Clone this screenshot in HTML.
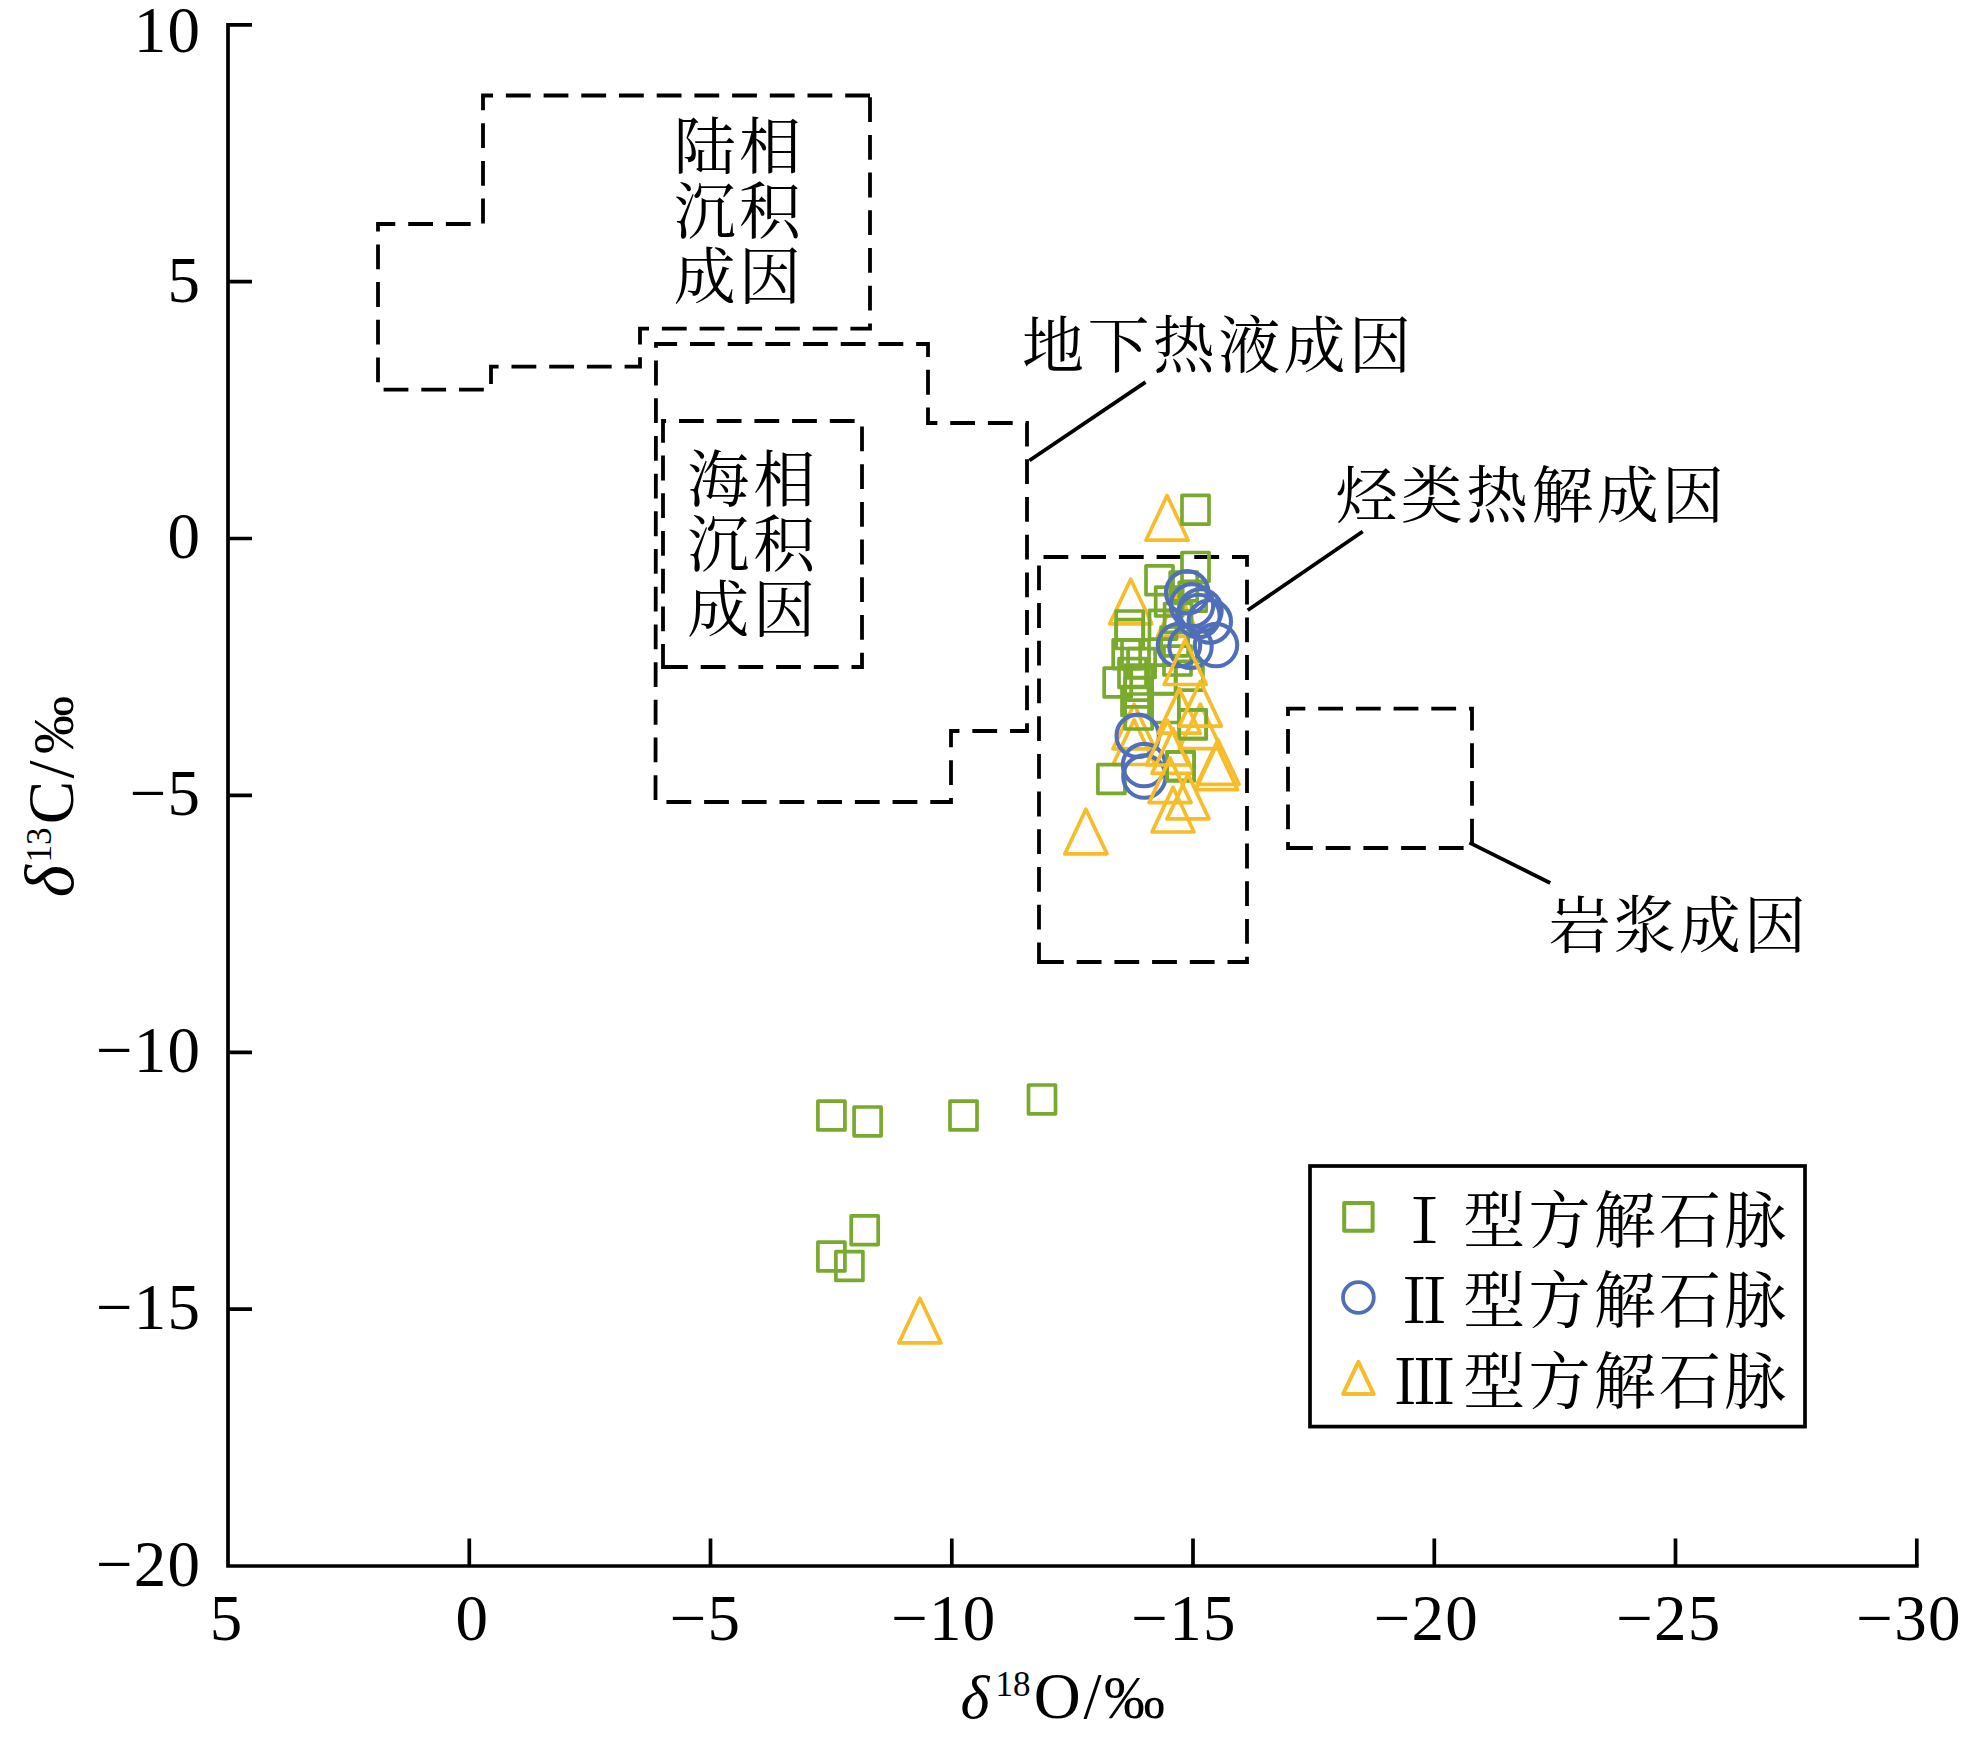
<!DOCTYPE html>
<html lang="zh"><head><meta charset="utf-8"><title>δ13C – δ18O 图解</title>
<style>html,body{margin:0;padding:0;background:#fff}svg{display:block}.cn{font-family:"Liberation Serif","Noto Serif CJK SC",serif;font-size:62px;font-weight:400;fill:#000}.num{font-family:"Liberation Serif",serif;font-size:65px;letter-spacing:1.2px;fill:#000}.ttl{font-family:"Liberation Serif",serif;font-size:65px;fill:#000}.ax{stroke:#000;stroke-width:3.7;fill:none;stroke-linecap:butt}.dash{stroke:#000;stroke-width:3.8;fill:none;stroke-dasharray:24.8 12.9;stroke-linejoin:miter}.ld{stroke:#000;stroke-width:3.8;fill:none}</style></head><body>
<svg width="1965" height="1737" viewBox="0 0 1965 1737">
<rect width="1965" height="1737" fill="#fff"/>
<path class="ax" d="M228.0 22.95V1566.0H1918.6499999999999"/>
<path class="ax" d="M228.0 24.8h24M228.0 281.7h24M228.0 538.5h24M228.0 795.4h24M228.0 1052.3h24M228.0 1309.1h24M469.3 1566.0v-27.5M710.5 1566.0v-27.5M951.8 1566.0v-27.5M1193.0 1566.0v-27.5M1434.3 1566.0v-27.5M1675.5 1566.0v-27.5M1916.8 1566.0v-27.5"/>
<g class="num" text-anchor="end">
<text x="201.2" y="51.6">10</text>
<text x="201.2" y="301.5">5</text>
<text x="201.2" y="558.3">0</text>
<text x="201.2" y="815.2">−5</text>
<text x="201.2" y="1072.1">−10</text>
<text x="201.2" y="1328.9">−15</text>
<text x="201.2" y="1585.8">−20</text>
</g>
<g class="num" text-anchor="middle">
<text x="226.5" y="1640">5</text>
<text x="472.3" y="1640">0</text>
<text x="705.5" y="1640">−5</text>
<text x="943.8" y="1640">−10</text>
<text x="1184.0" y="1640">−15</text>
<text x="1426.3" y="1640">−20</text>
<text x="1668.8" y="1640">−25</text>
<text x="1909.0" y="1640">−30</text>
</g>
<g class="ttl" transform="translate(962 1717.6)"><text x="-1.4" font-size="62" font-style="italic">δ</text><text x="33.5" y="-22" font-size="35">18</text><text x="71.7" font-size="65">O</text><text x="121.4" font-size="65">/</text><text x="142" font-size="61">‰</text></g>
<g class="ttl" transform="translate(73.4 896) rotate(-90)"><text x="-1.2" font-size="69" font-style="italic">δ</text><text x="33.5" y="-22" font-size="35">13</text><text x="71.7" font-size="65">C</text><text x="117.5" font-size="65">/</text><text x="142" font-size="58">‰</text></g>
<g class="dash">
<path d="M870 95.5H483V224H378V389.6H491V366.7H640V328.6H870Z"/>
<path pathLength="1658.8" stroke-dashoffset="3.7" d="M656 344H928V423H1027V731H951V802H655.5Z"/>
<path d="M663 667H862V421H663Z"/>
<path d="M1039 962H1247V557H1039Z"/>
<path d="M1288 848H1472V708.6H1288Z"/>
</g>
<path class="ld" d="M1029.4 460.5L1145.5 382.2M1247.7 610.3L1362.7 531.5M1469.4 842.6L1550.2 883"/>
<g class="cn" text-anchor="middle" style="letter-spacing:3.1px">
<text x="738.9" y="169.0">陆相</text>
<text x="738.9" y="234.1">沉积</text>
<text x="738.9" y="299.2">成因</text>
</g>
<g class="cn" text-anchor="middle" style="letter-spacing:4px">
<text x="753.3" y="502.0">海相</text>
<text x="753.3" y="567.1">沉积</text>
<text x="753.3" y="632.2">成因</text>
</g>
<g class="cn">
<text x="1022" y="368.4" textLength="389" lengthAdjust="spacing">地下热液成因</text>
<text x="1335.5" y="518" textLength="388.5" lengthAdjust="spacing">烃类热解成因</text>
<text x="1548.5" y="948.3" textLength="257.5" lengthAdjust="spacing">岩浆成因</text>
</g>
<g fill="none" stroke="#F7BC2A" stroke-width="3.7" stroke-linejoin="round">
<path d="M1167.1 495.6L1188.1 540.2H1146.0Z"/>
<path d="M1130.7 579.2L1151.8 623.8H1109.7Z"/>
<path d="M1178.5 591.7L1199.5 636.3H1157.5Z"/>
<path d="M1134.1 704.2L1155.1 748.8H1113.0Z"/>
<path d="M1134.1 719.9L1155.1 764.5H1113.0Z"/>
</g>
<g fill="none" stroke="#7AAA2D" stroke-width="3.7" stroke-linejoin="round">
<rect x="1182.0" y="495.4" width="27.0" height="28.8"/>
<rect x="1182.0" y="552.5" width="27.0" height="28.8"/>
<rect x="1146.0" y="565.9" width="27.0" height="28.8"/>
<rect x="1155.7" y="587.2" width="27.0" height="28.8"/>
<rect x="1170.2" y="572.1" width="27.0" height="28.8"/>
<rect x="1179.2" y="582.4" width="27.0" height="28.8"/>
<rect x="1116.2" y="611.0" width="27.0" height="28.8"/>
<rect x="1116.2" y="619.7" width="27.0" height="28.8"/>
<rect x="1164.6" y="603.5" width="27.0" height="28.8"/>
<rect x="1149.5" y="610.3" width="27.0" height="28.8"/>
<rect x="1113.2" y="639.8" width="27.0" height="28.8"/>
<rect x="1122.0" y="639.8" width="27.0" height="28.8"/>
<rect x="1128.1" y="648.7" width="27.0" height="28.8"/>
<rect x="1119.0" y="658.7" width="27.0" height="28.8"/>
<rect x="1125.1" y="665.2" width="27.0" height="28.8"/>
<rect x="1104.2" y="668.1" width="27.0" height="28.8"/>
<rect x="1125.1" y="678.0" width="27.0" height="28.8"/>
<rect x="1122.0" y="686.6" width="27.0" height="28.8"/>
<rect x="1125.1" y="700.2" width="27.0" height="28.8"/>
<rect x="1164.0" y="646.2" width="27.0" height="28.8"/>
<rect x="1161.1" y="627.0" width="27.0" height="28.8"/>
<rect x="1175.9" y="661.4" width="27.0" height="28.8"/>
<rect x="1148.5" y="665.2" width="27.0" height="28.8"/>
<rect x="1151.8" y="693.7" width="27.0" height="28.8"/>
<rect x="1179.2" y="709.9" width="27.0" height="28.8"/>
<rect x="1167.1" y="751.9" width="27.0" height="28.8"/>
<rect x="1097.9" y="764.6" width="27.0" height="28.8"/>
<rect x="817.9" y="1101.1" width="27.0" height="28.8"/>
<rect x="854.1" y="1107.0" width="27.0" height="28.8"/>
<rect x="950.0" y="1101.1" width="27.0" height="28.8"/>
<rect x="1028.5" y="1085.0" width="27.0" height="28.8"/>
<rect x="851.2" y="1215.8" width="27.0" height="28.8"/>
<rect x="817.9" y="1242.1" width="27.0" height="28.8"/>
<rect x="835.9" y="1251.6" width="27.0" height="28.8"/>
</g>
<g fill="none" stroke="#506FB8" stroke-width="4.1" stroke-linejoin="round">
<circle cx="1187.2" cy="592.3" r="21.2"/>
<circle cx="1192.0" cy="605.3" r="21.2"/>
<circle cx="1198.5" cy="616.0" r="21.2"/>
<circle cx="1200.5" cy="610.5" r="21.2"/>
<circle cx="1209.8" cy="621.5" r="21.2"/>
<circle cx="1216.0" cy="645.1" r="21.2"/>
<circle cx="1179.0" cy="645.1" r="21.2"/>
<circle cx="1190.5" cy="646.8" r="21.2"/>
<circle cx="1137.7" cy="735.8" r="21.2"/>
<circle cx="1144.0" cy="765.1" r="21.2"/>
<circle cx="1144.4" cy="776.6" r="21.2"/>
</g>
<g fill="none" stroke="#F7BC2A" stroke-width="3.7" stroke-linejoin="round">
<path d="M1185.2 639.9L1206.2 684.5H1164.2Z"/>
<path d="M1200.3 704.1L1221.3 748.7H1179.2Z"/>
<path d="M1179.3 688.6L1200.3 733.2H1158.2Z"/>
<path d="M1173.0 728.7L1194.0 773.3H1152.0Z"/>
</g>
<g fill="none" stroke="#7AAA2D" stroke-width="3.7" stroke-linejoin="round">
<rect x="1179.2" y="709.9" width="27.0" height="28.8"/>
<rect x="1167.1" y="751.9" width="27.0" height="28.8"/>
</g>
<g fill="none" stroke="#F7BC2A" stroke-width="3.7" stroke-linejoin="round">
<path d="M1200.3 681.5L1221.3 726.1H1179.2Z"/>
<path d="M1167.4 720.4L1188.5 765.0H1146.4Z"/>
<path d="M1170.0 758.0L1191.0 802.6H1149.0Z"/>
<path d="M1188.0 774.3L1209.0 818.9H1167.0Z"/>
<path d="M1173.0 787.4L1194.0 832.0H1152.0Z"/>
<path d="M1218.0 739.7L1239.0 784.3H1197.0Z"/>
<path d="M1216.5 745.1L1237.5 789.7H1195.5Z"/>
<path d="M1085.9 809.3L1107.0 853.9H1064.9Z"/>
<path d="M919.9 1298.3L940.9 1342.9H898.9Z"/>
</g>
<rect x="1310" y="1166" width="495" height="260.6" fill="#fff" stroke="#000" stroke-width="3.7"/>
<rect x="1344.2" y="1203" width="28.4" height="27.8" fill="none" stroke="#7AAA2D" stroke-width="4" stroke-linejoin="round"/>
<circle cx="1358.4" cy="1297.5" r="15.4" fill="none" stroke="#506FB8" stroke-width="3.8"/>
<path d="M1358.4 1361.8L1373.7 1394.1H1343.1Z" fill="none" stroke="#F7BC2A" stroke-width="4" stroke-linejoin="round"/>
<g class="cn">
<text x="1424.6" y="1242.5" text-anchor="middle">Ⅰ</text>
<text x="1463.3" y="1242.5" textLength="322.7" lengthAdjust="spacing">型方解石脉</text>
<text x="1424.6" y="1323.0" text-anchor="middle">Ⅱ</text>
<text x="1463.3" y="1323.0" textLength="322.7" lengthAdjust="spacing">型方解石脉</text>
<text x="1424.6" y="1403.5" text-anchor="middle">Ⅲ</text>
<text x="1463.3" y="1403.5" textLength="322.7" lengthAdjust="spacing">型方解石脉</text>
</g>
</svg></body></html>
